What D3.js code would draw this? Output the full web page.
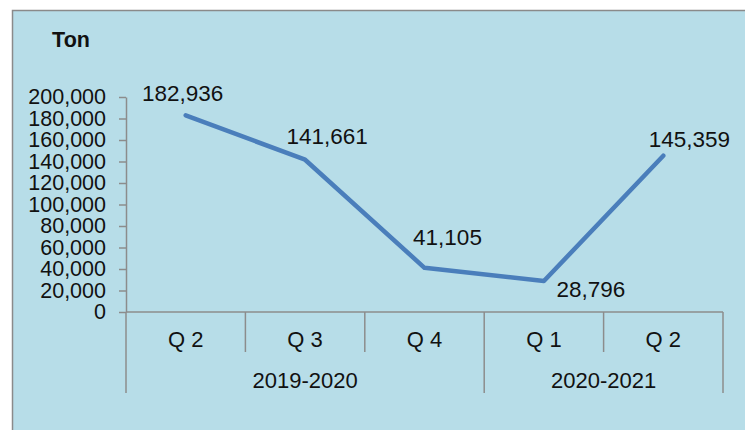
<!DOCTYPE html>
<html>
<head>
<meta charset="utf-8">
<script src="https://cdn.jsdelivr.net/npm/d3@7"></script>
<style>
  html, body { margin: 0; padding: 0; background: #ffffff; }
  svg { display: block; font-family: "Liberation Sans", Arial, sans-serif; }
</style>
</head>
<body>
<svg id="chart" width="745" height="430"></svg>
<script>
// Quarterly tonnage, fiscal years 2019-2020 and 2020-2021
const quarters = ["Q 2", "Q 3", "Q 4", "Q 1", "Q 2"];
const fiscalYears = ["2019-2020", "2020-2021"];
const yearSpans = [3, 2];               // quarters covered by each fiscal year
const tons = [182936, 141661, 41105, 28796, 145359];
const yTicks = [0, 20000, 40000, 60000, 80000, 100000, 120000, 140000, 160000, 180000, 200000];
const unitLabel = "Ton";
// label nudges relative to each point (px)
const labelDx = [-3, 22, 23, 47, 26];
const labelDy = [-14, -16, -23, 16, -9];

const svg = d3.select("#chart");
const W = 745, H = 430;

// panel
svg.append("rect").attr("x", 12).attr("y", 10).attr("width", W - 12).attr("height", H - 10)
  .attr("fill", "#b7dde8");
svg.append("path").attr("d", `M12.5,${H}V10.5H${W}`)
  .attr("fill", "none").attr("stroke", "#8a8a8a").attr("stroke-width", 1.5);

const plot = { left: 126, right: 723, top: 97, bottom: 312 };

const x = d3.scaleBand().domain(d3.range(quarters.length))
  .range([plot.left, plot.right]).paddingInner(0).paddingOuter(0);
const y = d3.scaleLinear().domain([0, 200000]).range([plot.bottom, plot.top]);

const axisColor = "#8c8c8c";
const fmt = d3.format(",");

// value axis
const yAxis = svg.append("g").attr("transform", `translate(${plot.left},0)`)
  .call(d3.axisLeft(y).tickValues(yTicks).tickFormat(fmt).tickSizeInner(7).tickSizeOuter(0).tickPadding(13));
yAxis.select(".domain").attr("stroke", axisColor).attr("stroke-width", 1.5);
yAxis.selectAll(".tick line").attr("stroke", axisColor).attr("stroke-width", 1.5);
yAxis.selectAll(".tick text").attr("fill", "#111").style("font-size", "21.5px")
  .style("font-family", "'Liberation Sans', Arial, sans-serif");

// category axis baseline
svg.append("line").attr("x1", plot.left).attr("x2", plot.right)
  .attr("y1", plot.bottom).attr("y2", plot.bottom)
  .attr("stroke", axisColor).attr("stroke-width", 1.5);

// separators: short between quarters, long at fiscal-year edges
const groupEdges = [0];
yearSpans.forEach((s, i) => groupEdges.push(groupEdges[i] + s));
const edgeX = i => i < quarters.length ? x(i) : x(quarters.length - 1) + x.bandwidth();
d3.range(quarters.length + 1).forEach(i => {
  const long = groupEdges.includes(i);
  svg.append("line").attr("x1", edgeX(i)).attr("x2", edgeX(i))
    .attr("y1", plot.bottom).attr("y2", long ? 393 : 352)
    .attr("stroke", axisColor).attr("stroke-width", 1.5);
});

// quarter labels
svg.selectAll(".qlab").data(quarters).join("text")
  .attr("x", (d, i) => x(i) + x.bandwidth() / 2).attr("y", 347)
  .attr("text-anchor", "middle").attr("font-size", "22px").attr("fill", "#111")
  .text(d => d);

// fiscal year labels
svg.selectAll(".ylab").data(fiscalYears).join("text")
  .attr("x", (d, i) => (edgeX(groupEdges[i]) + edgeX(groupEdges[i + 1])) / 2).attr("y", 388)
  .attr("text-anchor", "middle").attr("font-size", "22px").attr("fill", "#111")
  .text(d => d);

// unit label
svg.append("text").attr("x", 71).attr("y", 47).attr("text-anchor", "middle")
  .attr("font-size", "21.5px").attr("font-weight", "bold").attr("fill", "#111").text(unitLabel);

// series line
const cx = i => x(i) + x.bandwidth() / 2;
svg.append("path").datum(tons)
  .attr("d", d3.line().x((d, i) => cx(i)).y(d => y(d)))
  .attr("fill", "none").attr("stroke", "#4a7ebb").attr("stroke-width", 4.5)
  .attr("stroke-linejoin", "round").attr("stroke-linecap", "round");

// value labels
svg.selectAll(".vlab").data(tons).join("text")
  .attr("x", (d, i) => cx(i) + labelDx[i]).attr("y", (d, i) => y(d) + labelDy[i])
  .attr("text-anchor", "middle").attr("font-size", "22.5px").attr("fill", "#111")
  .text(d => fmt(d));
</script>
</body>
</html>
